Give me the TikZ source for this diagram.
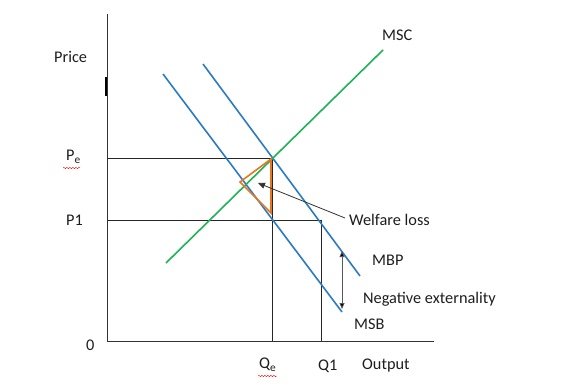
\documentclass[tikz,border=0pt]{standalone}
\usepackage{fontspec}
\setmainfont{Carlito}
\usetikzlibrary{arrows.meta,decorations.pathmorphing}
\definecolor{cblue}{HTML}{2A7BC6}
\definecolor{cgreen}{HTML}{1DB356}
\definecolor{corange}{HTML}{E8771E}
\definecolor{ctext}{HTML}{1E1E1E}
\tikzset{
  axis/.style={draw=black!80, line width=0.9pt},
  guide/.style={draw=black!85, line width=0.7pt},
  curveb/.style={draw=cblue, line width=1.6pt},
  curveg/.style={draw=cgreen, line width=1.6pt},
  lbl/.style={font=\fontsize{16.3}{18}\selectfont, text=ctext, inner sep=0pt},
  wavy/.style={draw=red, line width=0.4pt, decorate, decoration={snake, amplitude=0.7pt, segment length=3pt}},
}
\begin{document}
\begin{tikzpicture}[x=1pt,y=-1pt]
\useasboundingbox (0,0) rectangle (561,387);
% coordinates
\coordinate (O) at (107,341);
\coordinate (ytop) at (107,14);
\coordinate (xend) at (434,341);
\coordinate (E) at (272,158);
\coordinate (F) at (272,220);
\coordinate (G) at (321,220);
\coordinate (PeL) at (107,158);
\coordinate (P1L) at (107,220);
\coordinate (QeB) at (272,341);
\coordinate (Q1B) at (321,341);
% axes
\draw[axis] (ytop) -- (O) -- (xend);
\draw[line width=2.5pt] (106,77) -- (106,96);
% guides
\draw[guide] (PeL) -- (E) -- (QeB);
\draw[guide] (P1L) -- (G) -- (Q1B);
% curves
\coordinate (msbA) at (163,74);
\coordinate (msbB) at (342,312);
\coordinate (mbpA) at (203,64);
\coordinate (mbpB) at (360,276);
\coordinate (mscA) at (166,263);
\coordinate (mscB) at (383,50);
\draw[curveb] (msbA) -- (msbB);
\draw[curveb] (mbpA) -- (mbpB);
\draw[curveg] (mscA) -- (mscB);
% welfare triangle
\coordinate (T1) at (271,159);
\coordinate (T2) at (240,182);
\coordinate (T3) at (271,213);
\draw[draw=corange, line width=1.6pt, line join=miter] (T1) -- (T2) -- (T3) -- cycle;
% labels
\node[lbl, anchor=west] (price) at (54,57) {Price};
\node[lbl, anchor=west] (pe) at (66,157) {P\textsubscript{e}};
\draw[wavy] (63,168) -- (80,168);
\node[lbl, anchor=west] (p1) at (66,220) {P1};
\node[lbl, anchor=west] (zero) at (86,345) {0};
\node[lbl, anchor=west] (qe) at (259,365) {Q\textsubscript{e}};
\draw[wavy] (258,376) -- (277,376);
\node[lbl, anchor=west] (q1) at (318,366) {Q1};
\node[lbl, anchor=west] (output) at (362,366) {Output};
\node[lbl, anchor=west] (msc) at (382,35) {MSC};
\node[lbl, anchor=west] (wl) at (349,220) {Welfare loss};
\node[lbl, anchor=west] (mbp) at (372,260) {MBP};
\node[lbl, anchor=west] (negx) at (363,299) {Negative externality};
\node[lbl, anchor=west] (msb) at (354,324) {MSB};
% arrows
\coordinate (wlTail) at (345,218);
\coordinate (wlTip) at (258,183);
\draw[draw=black!80, line width=0.8pt, -{Triangle[length=7pt,width=6pt]}] (wlTail) -- (wlTip);
\coordinate (dA) at (342,251);
\coordinate (dB) at (342,309);
\draw[draw=black!65, line width=0.8pt, {Triangle[length=6pt,width=5pt,fill=black]}-{Triangle[length=6pt,width=5pt,fill=black]}] (dA) -- (dB);
\end{tikzpicture}
\end{document}
